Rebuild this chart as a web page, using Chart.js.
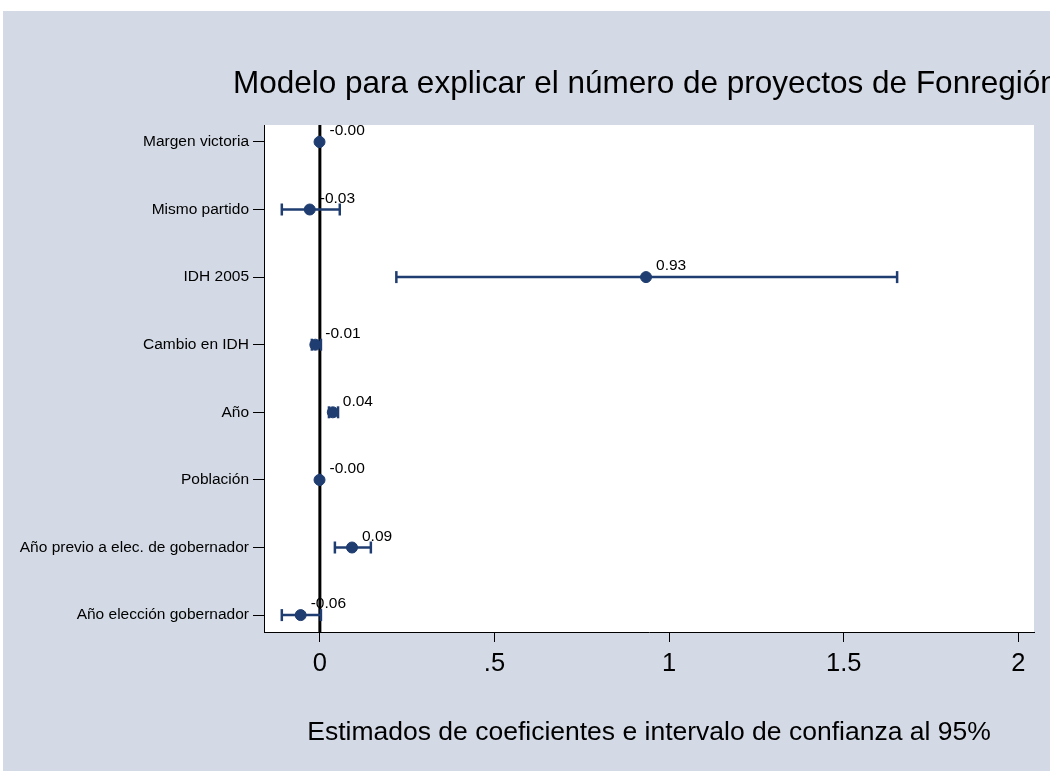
<!DOCTYPE html>
<html>
<head>
<meta charset="utf-8">
<title>Modelo Fonregión</title>
<script src="https://cdn.jsdelivr.net/npm/chart.js@4/dist/chart.umd.min.js"></script>
<style>
  html, body { margin: 0; padding: 0; background: #fff; }
  canvas { display: block; }
</style>
</head>
<body>
<canvas id="coefChart" width="1050" height="771"></canvas>
<script>
// Variables del modelo (de arriba hacia abajo)
const categories = [
  'Margen victoria',
  'Mismo partido',
  'IDH 2005',
  'Cambio en IDH',
  'Año',
  'Población',
  'Año previo a elec. de gobernador',
  'Año elección gobernador'
];
// Coeficientes estimados
const estimates = [-0.001, -0.029, 0.934, -0.013, 0.037, -0.001, 0.092, -0.055];
// Intervalo de confianza al 95%
const ciLower = [-0.003, -0.109, 0.219, -0.023, 0.026, -0.002, 0.043, -0.109];
const ciUpper = [0.001, 0.057, 1.653, 0.003, 0.052, 0.001, 0.146, 0.003];
// Etiquetas mostradas junto a cada punto
const pointLabels = ['-0.00', '-0.03', '0.93', '-0.01', '0.04', '-0.00', '0.09', '-0.06'];
// Marcas del eje x
const xTicks = [0, 0.5, 1, 1.5, 2];

const navy = '#1f3d70';
const labelFont = '"Liberation Sans", Arial, sans-serif';

const pointData = estimates.map((v, i) => ({ x: v, y: i }));

// One small dataset per confidence interval, caps drawn as rotated line points
const ciDatasets = categories.map((cat, i) => ({
  type: 'line',
  label: 'IC ' + cat,
  data: [{ x: ciLower[i], y: i }, { x: ciUpper[i], y: i }],
  borderColor: navy,
  backgroundColor: navy,
  borderWidth: 2.5,
  pointStyle: 'line',
  pointRotation: 90,
  pointRadius: 6,
  pointBorderWidth: 2.5,
  pointBorderColor: navy,
  fill: false
}));

// Background: white margin, bluish gray graph region, white plot region
const backgroundPlugin = {
  id: 'stataBackground',
  beforeDraw(chart) {
    const { ctx, chartArea, width, height } = chart;
    ctx.save();
    ctx.fillStyle = '#ffffff';
    ctx.fillRect(0, 0, width, height);
    ctx.fillStyle = '#d3dae5';
    ctx.fillRect(3, 11, width - 3, height - 11);
    ctx.fillStyle = '#ffffff';
    ctx.fillRect(chartArea.left, chartArea.top, chartArea.right - chartArea.left, chartArea.bottom - chartArea.top);
    ctx.restore();
  }
};

// Title is left anchored and runs off the right edge, as in the original
const titlePlugin = {
  id: 'leftTitle',
  afterDraw(chart) {
    const { ctx } = chart;
    ctx.save();
    ctx.fillStyle = '#000';
    ctx.font = '31.5px ' + labelFont;
    ctx.textAlign = 'left';
    ctx.textBaseline = 'alphabetic';
    ctx.fillText('Modelo para explicar el número de proyectos de Fonregión', 233, 93);
    ctx.restore();
  }
};

// Value labels above and to the right of each estimate
const valueLabelPlugin = {
  id: 'valueLabels',
  afterDatasetsDraw(chart) {
    const { ctx } = chart;
    const meta = chart.getDatasetMeta(0);
    ctx.save();
    ctx.fillStyle = '#000';
    ctx.font = '15.5px ' + labelFont;
    ctx.textAlign = 'left';
    ctx.textBaseline = 'middle';
    meta.data.forEach((pt, i) => {
      ctx.fillText(pointLabels[i], pt.x + 10, pt.y - 11);
    });
    ctx.restore();
  }
};

new Chart(document.getElementById('coefChart'), {
  type: 'scatter',
  data: {
    datasets: [
      {
        label: 'Coeficiente',
        data: pointData,
        backgroundColor: navy,
        borderColor: navy,
        pointRadius: 5.5,
        pointHoverRadius: 5.5
      },
      ...ciDatasets,
      {
        type: 'line',
        label: 'Cero',
        data: [{ x: 0, y: -0.25 }, { x: 0, y: 7.25 }],
        borderColor: '#000',
        borderWidth: 3,
        pointRadius: 0
      }
    ]
  },
  options: {
    responsive: false,
    devicePixelRatio: 1,
    animation: false,
    layout: { padding: { top: 125, right: 16, left: 0, bottom: 0 } },
    plugins: {
      legend: { display: false },
      tooltip: { enabled: false }
    },
    scales: {
      x: {
        type: 'linear',
        min: -0.16,
        max: 2.045,
        afterBuildTicks: scale => { scale.ticks = xTicks.map(v => ({ value: v })); },
        afterFit: scale => { scale.height = 139; },
        ticks: {
          color: '#000',
          font: { family: labelFont, size: 25.5 },
          padding: 7,
          callback: v => String(v).replace(/^0\./, '.')
        },
        grid: {
          display: true,
          drawOnChartArea: false,
          drawTicks: true,
          tickLength: 10,
          color: '#000',
          lineWidth: 1
        },
        border: { display: true, color: '#000', width: 1 },
        title: {
          display: true,
          text: 'Estimados de coeficientes e intervalo de confianza al 95%',
          color: '#000',
          font: { family: labelFont, size: 26.5 },
          padding: { top: 0, bottom: 22 }
        }
      },
      y: {
        type: 'linear',
        reverse: true,
        min: -0.25,
        max: 7.25,
        afterBuildTicks: scale => { scale.ticks = categories.map((c, i) => ({ value: i })); },
        afterFit: scale => { scale.width = 264; },
        ticks: {
          color: '#000',
          font: { family: labelFont, size: 15.5 },
          padding: 4,
          callback: v => categories[v]
        },
        grid: {
          display: true,
          drawOnChartArea: false,
          drawTicks: true,
          tickLength: 11,
          color: '#000',
          lineWidth: 1
        },
        border: { display: true, color: '#000', width: 1 }
      }
    }
  },
  plugins: [backgroundPlugin, titlePlugin, valueLabelPlugin]
});
</script>
</body>
</html>
